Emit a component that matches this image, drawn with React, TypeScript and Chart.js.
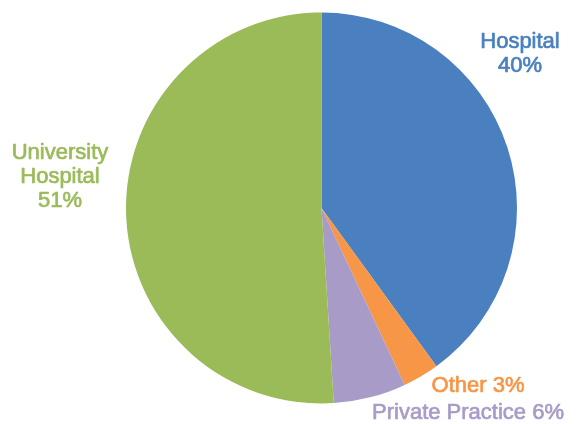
import React, { useEffect, useRef } from "react";
import { Chart, registerables } from "chart.js";

Chart.register(...registerables);

const categories = ["Hospital", "Other", "Private Practice", "University Hospital"];
const values = [40, 3, 6, 51];
const colors = ["#4A80C0", "#F79646", "#A99BC8", "#9BBB59"];
const labelLines = [["Hospital", "40%"], ["Other 3%"], ["Private Practice 6%"], ["University", "Hospital", "51%"]];
const labelPos = [
  { x: 520, y: 42 },
  { x: 478, y: 386 },
  { x: 468, y: 413 },
  { x: 60, y: 153 },
];

const labelPlugin = {
  id: "sliceLabels",
  afterDraw(chart: any) {
    const ctx = chart.ctx;
    ctx.save();
    ctx.font = "22px 'Liberation Sans', Arial, sans-serif";
    ctx.textAlign = "center";
    ctx.textBaseline = "middle";
    ctx.lineWidth = 0.7;
    ctx.lineJoin = "round";
    labelLines.forEach((lines, i) => {
      ctx.fillStyle = colors[i];
      ctx.strokeStyle = colors[i];
      lines.forEach((t, j) => {
        ctx.fillText(t, labelPos[i].x, labelPos[i].y + j * 24);
        ctx.strokeText(t, labelPos[i].x, labelPos[i].y + j * 24);
      });
    });
    ctx.restore();
  },
};

export default function App() {
  const ref = useRef<HTMLCanvasElement>(null);
  useEffect(() => {
    document.body.style.margin = "0";
    const chart = new Chart(ref.current!, {
      type: "pie",
      data: {
        labels: categories,
        datasets: [
          {
            data: values,
            backgroundColor: colors,
            borderWidth: 0,
          },
        ],
      },
      options: {
        animation: false,
        responsive: false,
        layout: { padding: { left: 126, right: 60, top: 12.5, bottom: 20.5 } },
        plugins: {
          legend: { display: false },
          tooltip: { enabled: false },
        },
      },
      plugins: [labelPlugin],
    });
    return () => chart.destroy();
  }, []);
  return (
    <div style={{ position: "fixed", left: 0, top: 0, width: 577, height: 424, background: "#fff" }}>
      <canvas ref={ref} width={577} height={424} />
    </div>
  );
}
